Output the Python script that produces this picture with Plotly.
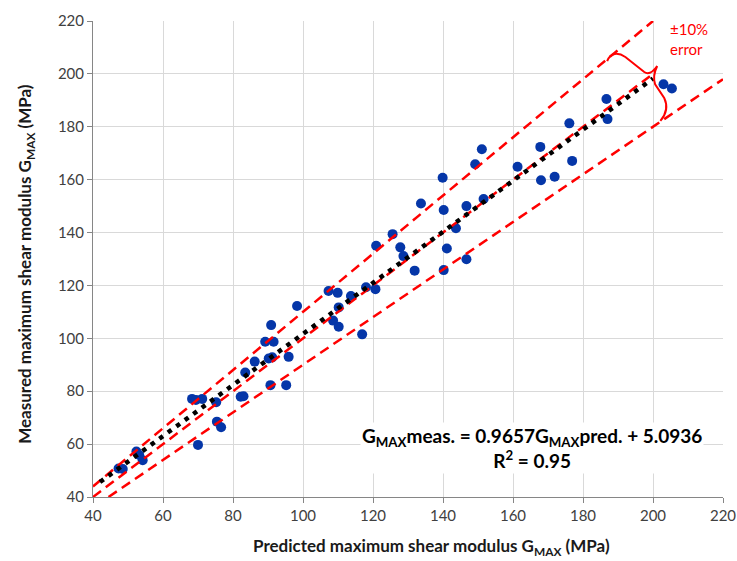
import plotly.graph_objects as go

# Measured vs predicted GMAX (MPa)
pred = [47.3, 48.5, 52.4, 53.2, 54.2, 68.3, 69.4, 71.2, 70.0, 75.2,
        75.4, 76.6, 82.2, 83.0, 83.5, 86.2, 89.2, 91.6, 90.9, 90.2,
        91.2, 95.9, 90.7, 95.2, 98.3, 107.3, 109.9, 113.7, 110.2, 108.6,
        110.2, 116.9, 118.0, 120.7, 120.9, 125.6, 127.8, 128.7, 131.9, 133.7,
        139.9, 140.2, 141.1, 140.2, 143.7, 146.7, 146.7, 149.2, 151.1, 151.6,
        161.3, 167.8, 168.0, 171.9, 176.9, 176.1, 186.7, 187.0, 203.0, 205.4]
meas = [50.8, 50.6, 57.2, 55.9, 53.9, 77.1, 76.7, 77.1, 59.7, 75.8,
        68.5, 66.4, 77.9, 78.1, 87.1, 91.2, 98.7, 98.7, 105.0, 92.4,
        92.8, 93.0, 82.3, 82.3, 112.2, 117.9, 117.2, 116.0, 111.7, 106.7,
        104.4, 101.5, 119.3, 118.6, 135.0, 139.4, 134.4, 131.1, 125.6, 151.0,
        160.7, 148.5, 134.0, 125.8, 141.6, 150.0, 129.9, 165.8, 171.5, 152.7,
        164.9, 172.4, 159.8, 161.1, 167.1, 181.3, 190.5, 182.9, 196.1, 194.5]

# Reference lines
line_1to1_x = [40, 200]
upper_x = [40, 200]          # +10 %
lower_x = [44.44, 220]       # -10 %
trend_x = [42, 200]
slope, intercept = 0.9657, 5.0936

tick_vals = [40, 60, 80, 100, 120, 140, 160, 180, 200, 220]

FONT = "Lato"
RED = "#ff0000"
BLUE = "#0536a8"

fig = go.Figure()

fig.add_trace(go.Scatter(x=pred, y=meas, mode="markers",
                         marker=dict(color=BLUE, size=10, line=dict(width=0)),
                         showlegend=False, cliponaxis=False))

dash_red = "10px,6px"
fig.add_trace(go.Scatter(x=upper_x, y=[1.1 * v for v in upper_x], mode="lines",
                         line=dict(color=RED, width=2.5, dash=dash_red), showlegend=False))
fig.add_trace(go.Scatter(x=lower_x, y=[0.9 * v for v in lower_x], mode="lines",
                         line=dict(color=RED, width=2.5, dash=dash_red), showlegend=False))
fig.add_trace(go.Scatter(x=line_1to1_x, y=line_1to1_x, mode="lines",
                         line=dict(color=RED, width=2.5, dash=dash_red), showlegend=False))
fig.add_trace(go.Scatter(x=trend_x, y=[slope * v + intercept for v in trend_x], mode="lines",
                         line=dict(color="black", width=4.5, dash="4.5px,6px"), showlegend=False))

# Curly brace marking the ±10% band
brace = ("M 186.9,204.8 C 187.8,208.2 190.1,208.2 192.1,206.4 "
         "L 197.5,200.7 Q 199.2,199.2 201.2,203.0 "
         "Q 199.8,199.2 200.6,196.1 L 203.2,190.9 "
         "C 204.3,187.8 203.8,184.8 202.1,182.2")
fig.add_shape(type="path", path=brace, xref="x", yref="y",
              line=dict(color=RED, width=2))

fig.add_annotation(x=210.2, y=213.2, xref="x", yref="y", showarrow=False,
                   text="±10%<br>error", align="left",
                   font=dict(family=FONT, size=15, color=RED))

fig.add_annotation(x=165.5, y=58.5, xref="x", yref="y", showarrow=False,
                   text="<b>G<sub>MAX</sub>meas. = 0.9657G<sub>MAX</sub>pred. + 5.0936</b><br><b>R<sup>2</sup> = 0.95</b>",
                   align="center", bgcolor="white",
                   font=dict(family=FONT, size=19, color="black"))

# Axis titles (centred on the chart area, as in the original)
fig.add_annotation(x=0.537, y=0, xref="paper", yref="paper", yshift=-50,
                   showarrow=False, yanchor="middle", xanchor="center",
                   text="<b>Predicted maximum shear modulus G<sub>MAX</sub> (MPa)</b>",
                   font=dict(family=FONT, size=17, color="#1a1a1a"))
fig.add_annotation(x=0, y=0.49, xref="paper", yref="paper", xshift=-67,
                   showarrow=False, textangle=-90, xanchor="center", yanchor="middle",
                   text="<b>Measured maximum shear modulus G<sub>MAX</sub> (MPa)</b>",
                   font=dict(family=FONT, size=17, color="#1a1a1a"))

axis_common = dict(range=[40, 220], tickvals=tick_vals, showgrid=True,
                   gridcolor="#d9d9d9", gridwidth=1, showline=True,
                   linecolor="#868686", linewidth=1, ticks="outside",
                   ticklen=5, tickcolor="#868686", zeroline=False, automargin=False,
                   tickfont=dict(family=FONT, size=15, color="#404040"))

fig.update_xaxes(**axis_common)
fig.update_yaxes(**axis_common)

fig.update_layout(width=737, height=561, margin=dict(l=93, r=14, t=21, b=64, autoexpand=False),
                  plot_bgcolor="white", paper_bgcolor="white",
                  font=dict(family=FONT))

fig.write_html("out.html")
